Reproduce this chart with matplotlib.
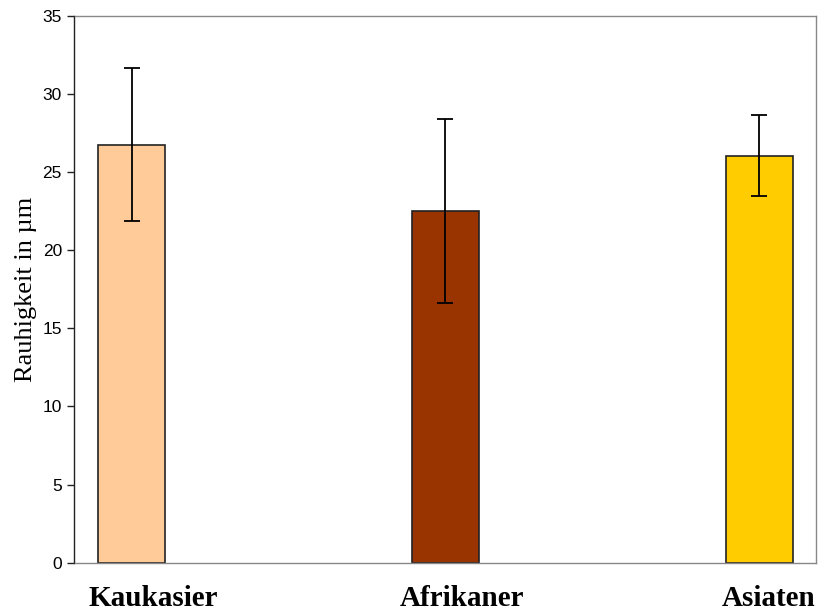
import matplotlib.pyplot as plt
import matplotlib.transforms as mtransforms
import numpy as np

# Datos
gruppen   = ['Kaukasier', 'Afrikaner', 'Asiaten']
mittel    = [26.75, 22.5, 26.05]
fehler    = [4.9, 5.9, 2.6]
farben    = ['#FFCC99', '#993300', '#FFCC00']
label_off = [0.068, 0.052, 0.03]

fig = plt.figure(figsize=(8.2, 6.15), dpi=100)
ax = fig.add_axes([74.5 / 820, 1 - 562.7 / 615, 742 / 820, 547 / 615])

x = np.arange(len(gruppen))
ax.bar(x, mittel, width=0.213, color=farben, edgecolor='#222222', linewidth=1.2,
       yerr=fehler, error_kw=dict(ecolor='black', elinewidth=1.3, capsize=6, capthick=1.3))

ax.set_xlim(-0.182, 2.182)
ax.set_ylim(0, 35)
ax.set_yticks(np.arange(0, 36, 5))
ax.set_xticks([])

for lado in ['top', 'right', 'bottom']:
   ax.spines[lado].set_color('#888888')
ax.spines['left'].set_color('#222222')
for s in ax.spines.values():
   s.set_linewidth(1.0)

ax.tick_params(axis='y', direction='out', length=5, width=1.0, color='#222222',
               labelsize=12.5, pad=4)
for t in ax.get_yticklabels():
   t.set_fontfamily('Liberation Sans')

ax.set_ylabel('Rauhigkeit in µm', family='Liberation Serif', fontsize=19, labelpad=4)

trans = mtransforms.blended_transform_factory(ax.transData, fig.transFigure)
for xi, nombre, off in zip(x, gruppen, label_off):
   ax.text(xi + off, 1 - 598 / 615, nombre, transform=trans, ha='center', va='center',
           family='Liberation Serif', fontweight='bold', fontsize=21)

fig.savefig('out.png', dpi=100)
